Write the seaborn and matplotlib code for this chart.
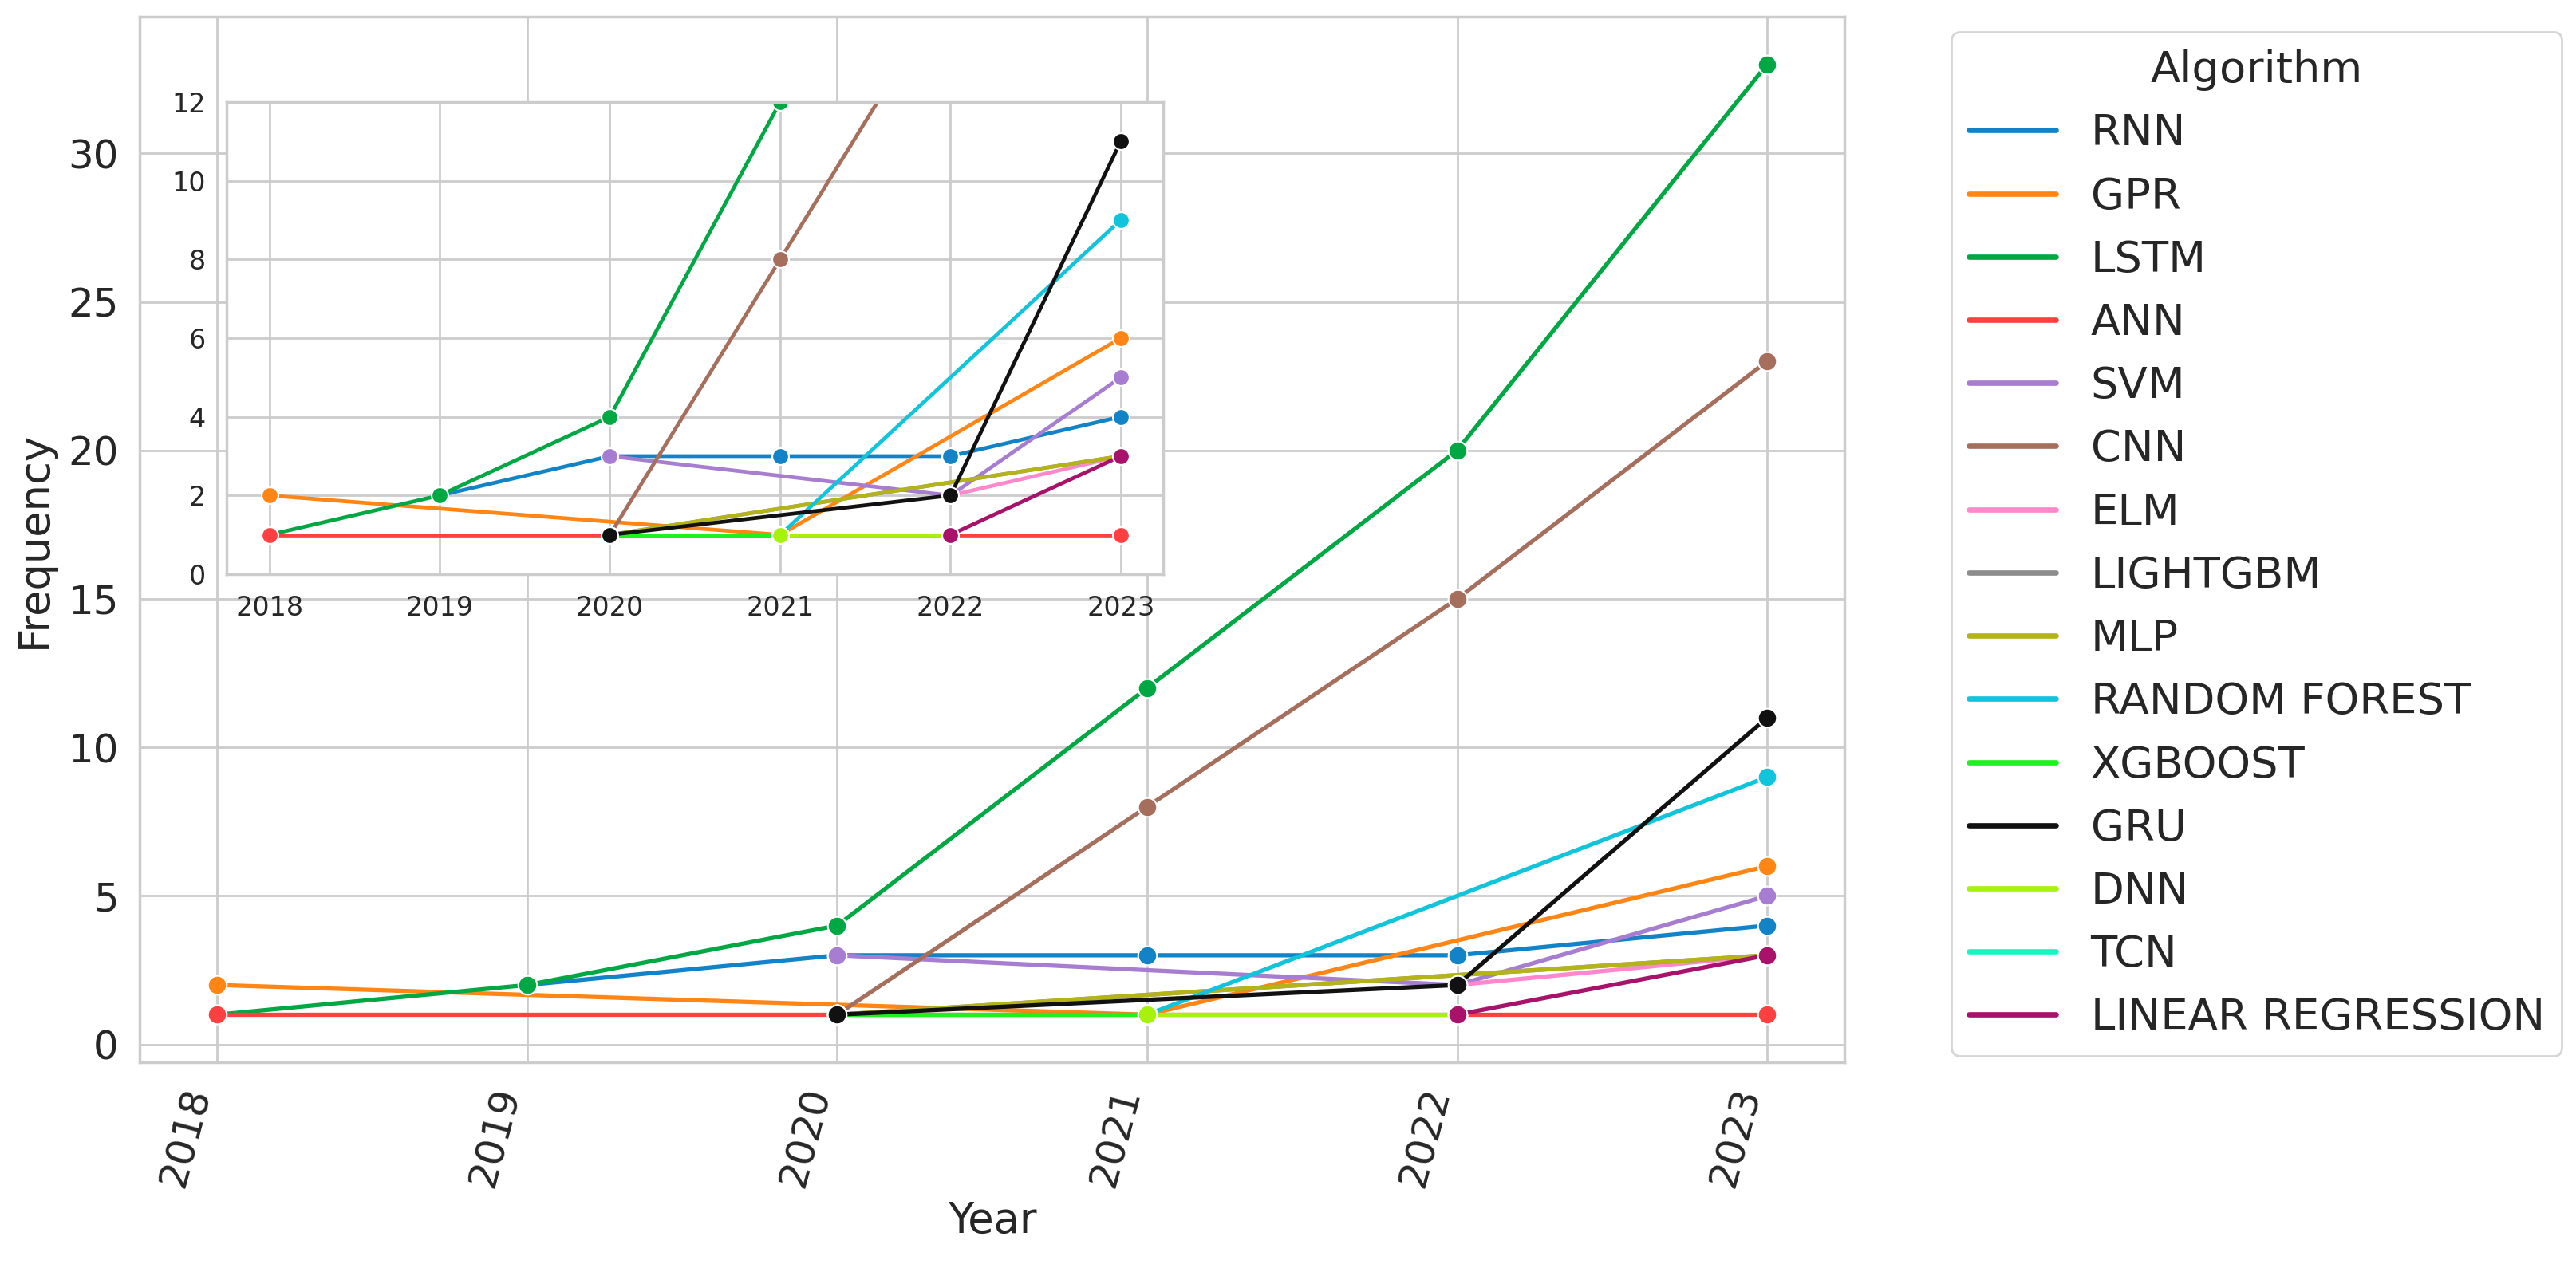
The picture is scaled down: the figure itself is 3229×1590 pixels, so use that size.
import numpy as np
import pandas as pd
import matplotlib
matplotlib.use("Agg")
import matplotlib.pyplot as plt
from matplotlib.lines import Line2D
import seaborn as sns

# ── Data (NaN = algorithm not reported that year) ────────────────────────────
YEARS = [2018, 2019, 2020, 2021, 2022, 2023]
ALGORITHMS = ["RNN", "GPR", "LSTM", "ANN", "SVM", "CNN", "ELM", "LIGHTGBM", "MLP",
              "RANDOM FOREST", "XGBOOST", "GRU", "DNN", "TCN", "LINEAR REGRESSION"]
nan = np.nan
rnn = [nan, 2, 3, 3, 3, 4]
gpr = [2, nan, nan, 1, nan, 6]
lstm = [1, 2, 4, 12, 20, 33]
ann = [1, nan, 1, 1, 1, 1]
svm = [nan, nan, 3, nan, 2, 5]
cnn = [nan, nan, 1, 8, 15, 23]
elm = [nan, nan, nan, nan, 2, 3]
lightgbm = [nan, nan, 1, nan, nan, 3]
mlp = [nan, nan, 1, nan, nan, 3]
random_forest = [nan, nan, nan, 1, nan, 9]
xgboost = [nan, nan, 1, 1, nan, nan]
gru = [nan, nan, 1, nan, 2, 11]
dnn = [nan, nan, nan, 1, 1, nan]
tcn = [nan, nan, nan, nan, 1, nan]
linear_regression = [nan, nan, nan, nan, 1, 3]

SERIES = [rnn, gpr, lstm, ann, svm, cnn, elm, lightgbm, mlp,
          random_forest, xgboost, gru, dnn, tcn, linear_regression]

COLORS = ["#1283c7", "#ff8515", "#00a843", "#ff4040", "#a77dd1", "#a66f5d",
          "#ff88cc", "#8c8c8c", "#b4b418", "#10c4dc", "#1ff01f", "#111111",
          "#a6f20a", "#19f5c0", "#a8126b"]

df = pd.DataFrame({
    "Year": np.tile(YEARS, len(ALGORITHMS)),
    "Algorithm": np.repeat(ALGORITHMS, len(YEARS)),
    "Frequency": np.concatenate(SERIES),
}).dropna()

# ── Style ────────────────────────────────────────────────────────────────────
sns.set_theme(style="whitegrid")
plt.rcParams["font.family"] = ["DejaVu Sans"]

fig = plt.figure(figsize=(16.145, 7.95), dpi=200)
ax = fig.add_axes([0.0542, 0.1623, 0.6619, 0.8245])

sns.lineplot(data=df, x="Year", y="Frequency", hue="Algorithm",
             hue_order=ALGORITHMS, palette=COLORS, marker="o",
             markersize=8.5, linewidth=1.9, ax=ax, legend=False)
ax.set_xticks(YEARS)
ax.set_xticklabels([str(y) for y in YEARS], rotation=75, ha="right", fontsize=18)
ax.set_yticks([0, 5, 10, 15, 20, 25, 30])
ax.tick_params(axis="y", labelsize=18)
ax.set_xlabel("Year", fontsize=19)
ax.set_ylabel("Frequency", fontsize=19, labelpad=6)

# legend with plain line handles
handles = [Line2D([0], [0], color=c, lw=2.4) for c in COLORS]
leg = ax.legend(handles, ALGORITHMS, title="Algorithm", loc="upper left",
                bbox_to_anchor=(1.05, 1.006), fontsize=19.6, title_fontsize=19.6)

# ── Inset zoom on low counts ─────────────────────────────────────────────────
ax_in = fig.add_axes([0.0880, 0.5472, 0.3636, 0.3723])
sns.lineplot(data=df, x="Year", y="Frequency", hue="Algorithm",
             hue_order=ALGORITHMS, palette=COLORS, marker="o",
             markersize=7.5, linewidth=1.7, ax=ax_in, legend=False)
ax_in.set_ylim(0, 12)
ax_in.set_yticks([0, 2, 4, 6, 8, 10, 12])
ax_in.set_xticks(YEARS)
ax_in.set_xticklabels([str(y) for y in YEARS])
ax_in.tick_params(labelsize=12)
ax_in.set_xlabel("")
ax_in.set_ylabel("")

fig.savefig("out.png", dpi=200)
